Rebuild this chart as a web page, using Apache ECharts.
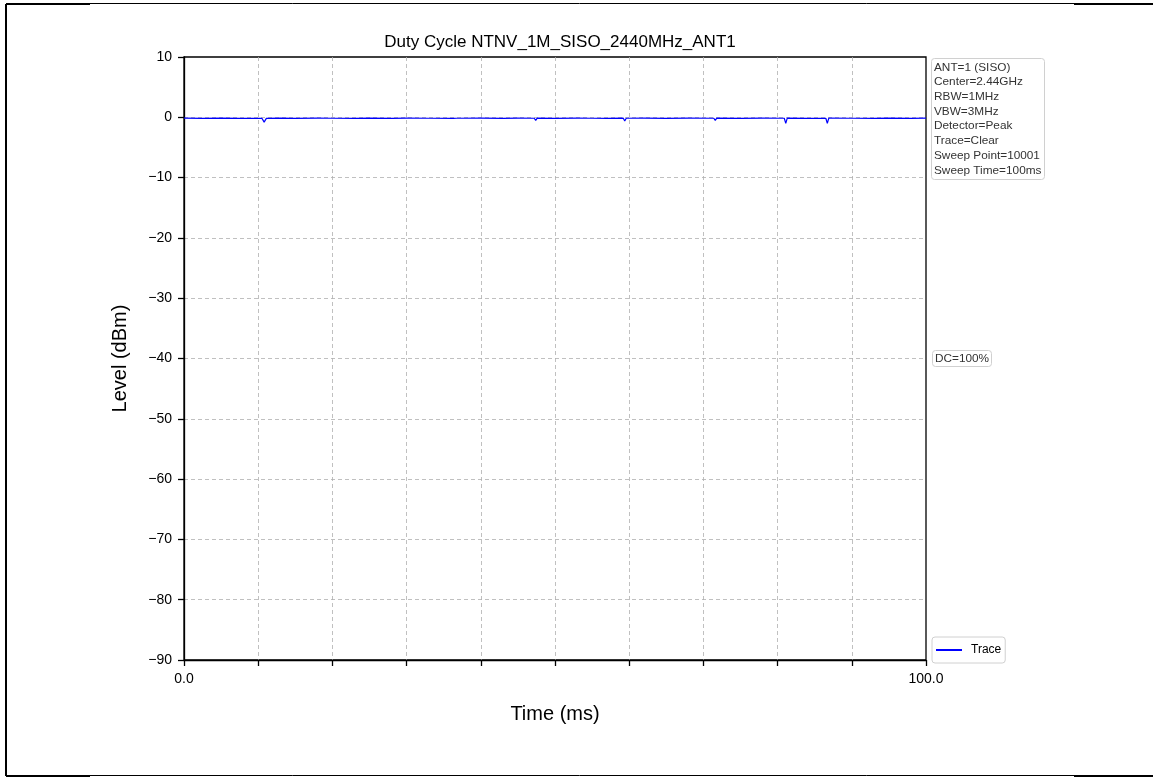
<!DOCTYPE html>
<html>
<head>
<meta charset="utf-8">
<script src="https://cdn.jsdelivr.net/npm/echarts@6/dist/echarts.min.js"></script>
<style>html,body{margin:0;padding:0;background:#fff;}#c{width:1153px;height:778px;}</style>
</head>
<body>
<div id="c"></div>
<script>
const chartTitle = 'Duty Cycle NTNV_1M_SISO_2440MHz_ANT1';
const xTitle = 'Time (ms)';
const yTitle = 'Level (dBm)';
const seriesName = 'Trace';
const infoLines = ['ANT=1 (SISO)', 'Center=2.44GHz', 'RBW=1MHz', 'VBW=3MHz', 'Detector=Peak', 'Trace=Clear', 'Sweep Point=10001', 'Sweep Time=100ms'];
const dcLabel = 'DC=100%';
const timeMs = [0, 2.5, 5, 7.5, 10.5, 10.8, 11.1, 13, 15, 18, 20, 23, 25, 28, 30, 33, 36.3, 36.5, 36.7, 40, 43, 45, 47.2, 47.4, 47.6, 50, 53, 55, 57, 59.2, 59.4, 59.6, 62, 65, 68, 71.4, 71.6, 71.8, 75, 78, 80.9, 81.1, 81.3, 84, 86.5, 86.7, 86.9, 90, 93, 95, 98, 100];
const levelDbm = [-0.15, -0.18, -0.14, -0.17, -0.16, -0.8, -0.17, -0.15, -0.18, -0.14, -0.16, -0.17, -0.15, -0.18, -0.15, -0.16, -0.17, -0.4, -0.16, -0.15, -0.18, -0.14, -0.16, -0.5, -0.15, -0.17, -0.14, -0.16, -0.18, -0.15, -0.6, -0.16, -0.14, -0.17, -0.15, -0.16, -0.5, -0.15, -0.17, -0.14, -0.16, -1.0, -0.15, -0.17, -0.16, -1.0, -0.14, -0.16, -0.18, -0.15, -0.17, -0.15];

const FONT = '"Liberation Sans", Arial, sans-serif';
const data = timeMs.map((t, i) => [t, levelDbm[i]]);
const minus = v => String(v).replace('-', '\u2212');

const chart = echarts.init(document.getElementById('c'), null, {renderer: 'canvas'});
chart.setOption({
  backgroundColor: '#ffffff',
  animation: false,
  title: [
    {text: chartTitle, left: 555, top: 29, textAlign: 'center',
     textStyle: {fontFamily: FONT, fontSize: 17, fontWeight: 'normal', color: '#000'}},
    {text: infoLines.join('\n'), left: 931, top: 58, padding: [2, 3, 2, 3],
     borderColor: '#d0d0d0', borderWidth: 1, borderRadius: 3, backgroundColor: '#fff',
     textStyle: {fontFamily: FONT, fontSize: 11.8, fontWeight: 'normal', color: '#333', lineHeight: 14.7}},
    {text: dcLabel, left: 932, top: 350, padding: [2, 3, 2, 3],
     borderColor: '#d0d0d0', borderWidth: 1, borderRadius: 3, backgroundColor: '#fff',
     textStyle: {fontFamily: FONT, fontSize: 11.8, fontWeight: 'normal', color: '#333', lineHeight: 13}}
  ],
  legend: {
    left: 932, top: 637, orient: 'vertical',
    padding: [7, 4, 7, 4],
    borderColor: '#d0d0d0', borderWidth: 1, borderRadius: 3,
    itemWidth: 26, itemHeight: 2, itemGap: 6,
    icon: 'rect',
    textStyle: {fontFamily: FONT, fontSize: 12, color: '#000', padding: [0, 0, 0, 4]},
    data: [seriesName]
  },
  grid: {left: 184, right: 227, top: 57, bottom: 118, show: true, borderColor: '#000', borderWidth: 1.3, backgroundColor: 'transparent'},
  xAxis: {
    type: 'value', min: 0, max: 100, interval: 10,
    name: xTitle, nameLocation: 'middle', nameGap: 44,
    nameTextStyle: {fontFamily: FONT, fontSize: 20, color: '#000'},
    axisLine: {show: true, onZero: false, lineStyle: {color: '#000', width: 1.3}},
    axisTick: {show: true, inside: false, length: 6, lineStyle: {color: '#000', width: 1.3}},
    axisLabel: {fontFamily: FONT, fontSize: 14, color: '#000', margin: 12,
      formatter: v => (v === 0 || v === 100) ? v.toFixed(1) : '', showMinLabel: true, showMaxLabel: true},
    splitLine: {show: true, showMinLine: false, showMaxLine: false, lineStyle: {color: '#b0b0b0', type: [4, 3], width: 0.8}}
  },
  yAxis: {
    type: 'value', min: -90, max: 10, interval: 10,
    name: yTitle, nameLocation: 'middle', nameGap: 54, nameRotate: 90,
    nameTextStyle: {fontFamily: FONT, fontSize: 20, color: '#000'},
    axisLine: {show: true, onZero: false, lineStyle: {color: '#000', width: 1.3}},
    axisTick: {show: true, inside: false, length: 6, lineStyle: {color: '#000', width: 1.3}},
    axisLabel: {fontFamily: FONT, fontSize: 14, color: '#000', margin: 12, formatter: v => minus(v)},
    splitLine: {show: true, showMinLine: false, showMaxLine: false, lineStyle: {color: '#b0b0b0', type: [4, 3], width: 0.8}}
  },
  series: [{
    name: seriesName, type: 'line', data: data, showSymbol: false, symbol: 'none',
    lineStyle: {color: '#0000ff', width: 1.2}, itemStyle: {color: '#0000ff'}
  }],
  graphic: [
    {type: 'line', shape: {x1: 6, y1: 4, x2: 6, y2: 776}, style: {stroke: '#000', lineWidth: 2}},
    {type: 'line', shape: {x1: 6, y1: 3.5, x2: 1153, y2: 3.5}, style: {stroke: '#000', lineWidth: 1}},
    {type: 'line', shape: {x1: 6, y1: 775.5, x2: 1153, y2: 775.5}, style: {stroke: '#000', lineWidth: 1}},
    {type: 'line', shape: {x1: 6, y1: 4, x2: 90, y2: 4}, style: {stroke: '#000', lineWidth: 2}},
    {type: 'line', shape: {x1: 1074, y1: 4, x2: 1153, y2: 4}, style: {stroke: '#000', lineWidth: 2}},
    {type: 'line', shape: {x1: 6, y1: 776, x2: 90, y2: 776}, style: {stroke: '#000', lineWidth: 2}},
    {type: 'line', shape: {x1: 1074, y1: 776, x2: 1153, y2: 776}, style: {stroke: '#000', lineWidth: 2}}
  ]
});
</script>
</body>
</html>
